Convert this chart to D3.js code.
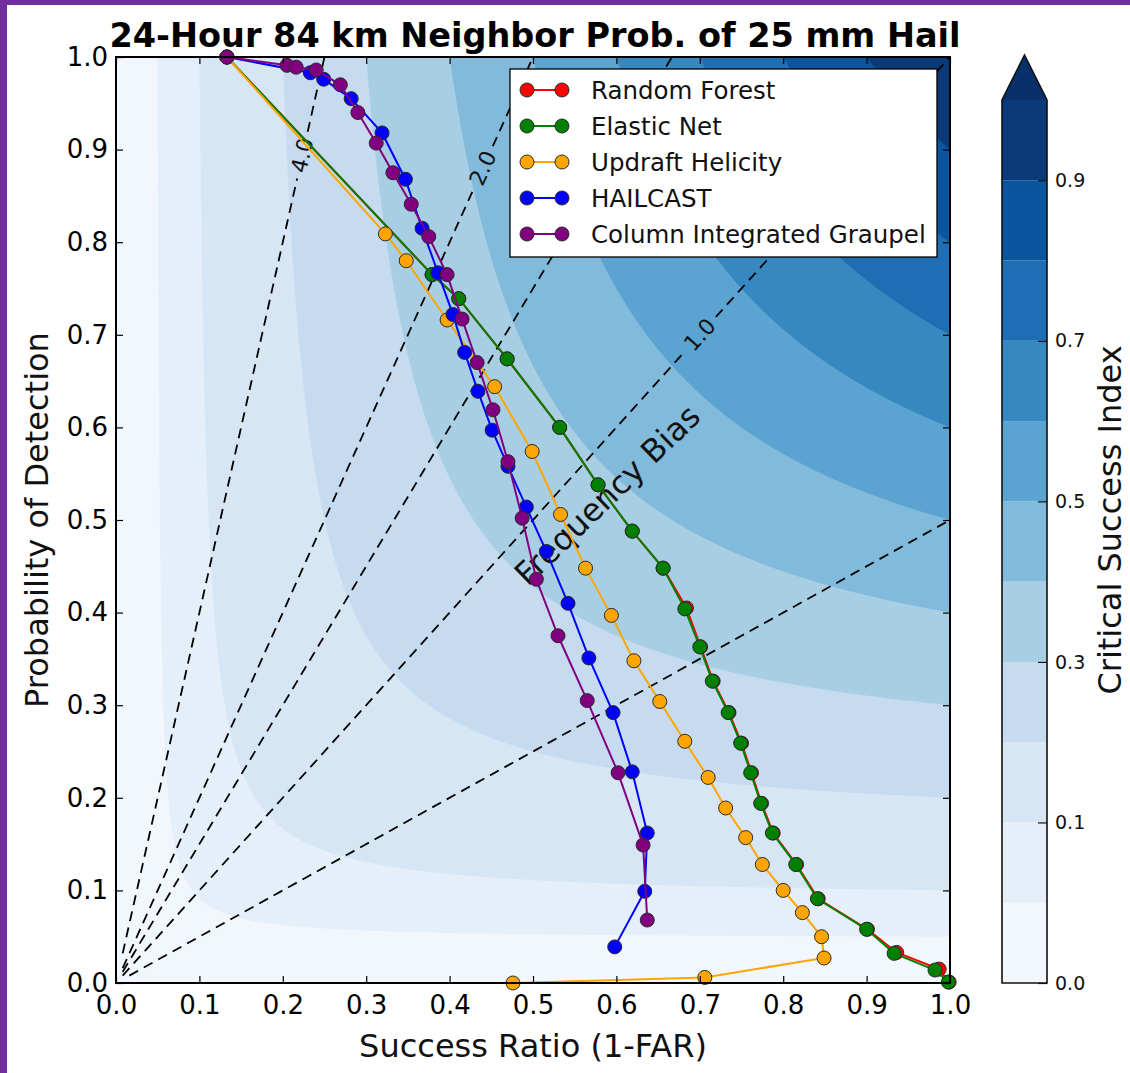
<!DOCTYPE html>
<html>
<head>
<meta charset="utf-8">
<script src="https://cdn.jsdelivr.net/npm/d3@7"></script>
<style>
  body { margin: 0; background: #fff; }
  svg { display: block; font-family: "DejaVu Sans", sans-serif; }
</style>
</head>
<body>
<svg id="chart" width="1130" height="1073"></svg>
<script>
// ---- data ----
const seriesNames = ["Random Forest", "Elastic Net", "Updraft Helicity", "HAILCAST", "Column Integrated Graupel"];
const seriesColors = ["red", "green", "orange", "blue", "purple"];

const rfSR  = [0.133,0.379,0.411,0.469,0.532,0.578,0.619,0.656,0.684,0.701,0.716,0.735,0.750,0.762,0.774,0.788,0.816,0.842,0.901,0.936,0.987,0.999];
const rfPOD = [1.000,0.765,0.739,0.674,0.600,0.538,0.488,0.448,0.405,0.363,0.326,0.292,0.259,0.227,0.194,0.162,0.128,0.091,0.058,0.033,0.015,0.001];

const enSR  = [0.133,0.379,0.411,0.469,0.532,0.578,0.619,0.656,0.682,0.700,0.715,0.734,0.749,0.761,0.773,0.787,0.815,0.841,0.900,0.933,0.982,0.998];
const enPOD = [1.000,0.765,0.739,0.674,0.600,0.538,0.488,0.448,0.404,0.363,0.326,0.292,0.259,0.227,0.194,0.162,0.128,0.091,0.058,0.032,0.014,0.001];

const uhSR  = [0.133,0.323,0.348,0.397,0.454,0.499,0.533,0.563,0.594,0.621,0.652,0.682,0.710,0.731,0.755,0.775,0.800,0.823,0.846,0.849,0.706,0.476];
const uhPOD = [1.000,0.809,0.780,0.716,0.644,0.574,0.506,0.448,0.397,0.348,0.304,0.261,0.222,0.189,0.157,0.128,0.100,0.076,0.050,0.027,0.006,0.000];

const hcSR  = [0.133,0.233,0.249,0.282,0.319,0.347,0.367,0.386,0.404,0.418,0.434,0.451,0.470,0.492,0.516,0.542,0.567,0.596,0.619,0.637,0.634,0.598];
const hcPOD = [1.000,0.983,0.976,0.955,0.918,0.868,0.815,0.767,0.722,0.681,0.639,0.597,0.558,0.514,0.466,0.410,0.351,0.292,0.228,0.162,0.099,0.039];

const cgSR  = [0.133,0.205,0.216,0.240,0.269,0.290,0.312,0.332,0.354,0.375,0.397,0.415,0.433,0.452,0.470,0.487,0.504,0.530,0.565,0.602,0.632,0.637];
const cgPOD = [1.000,0.991,0.989,0.986,0.970,0.940,0.907,0.875,0.841,0.806,0.765,0.717,0.670,0.619,0.563,0.502,0.436,0.375,0.305,0.227,0.149,0.068];

const csiLevels = [0, 0.05, 0.1, 0.2, 0.3, 0.4, 0.5, 0.6, 0.7, 0.8, 0.9, 1.0];
const csiColors = ["#f1f7fd","#e5eff9","#d7e6f4","#c6dbef","#a8cee4","#82badb","#5ba3d0","#3787c0","#1f6eb3","#0b559f","#0a3b78"];
const csiArrowColor = "#08306b";
const cbarTicks = [0.0, 0.1, 0.3, 0.5, 0.7, 0.9];

const biasValues = [0.5, 1.0, 1.5, 2.0, 4.0];
const biasLabelPOD = [null, 0.70, null, 0.88, 0.894];

const axisTicks = d3.range(0, 1.01, 0.1);

// ---- layout ----
const svg = d3.select("#chart");
const pL = 116, pR = 950, pT = 57, pB = 983;
const x = d3.scaleLinear().domain([0, 1]).range([pL, pR]);
const y = d3.scaleLinear().domain([0, 1]).range([pB, pT]);

// purple frame of the screenshot
svg.append("rect").attr("x", 0).attr("y", 0).attr("width", 7).attr("height", 1073).attr("fill", "#7030a0");
svg.append("rect").attr("x", 0).attr("y", 0).attr("width", 1130).attr("height", 5).attr("fill", "#7030a0");

svg.append("defs").append("clipPath").attr("id", "plotclip")
  .append("rect").attr("x", pL).attr("y", pT).attr("width", pR - pL).attr("height", pB - pT);

const plot = svg.append("g").attr("clip-path", "url(#plotclip)");

// ---- CSI filled contours ----
const n = 400;
const vals = new Float64Array(n * n);
for (let j = 0; j < n; j++) {
  for (let i = 0; i < n; i++) {
    const sr = (i + 0.5) / n, pod = (j + 0.5) / n;
    vals[j * n + i] = 1 / (1 / sr + 1 / pod - 1);
  }
}
const contours = d3.contours().size([n, n]).thresholds(csiLevels.slice(1, -1))(vals);
const proj = d3.geoTransform({
  point(px, py) { this.stream.point(x(px / n), y(py / n)); }
});
const cpath = d3.geoPath(proj);

plot.append("rect").attr("x", pL).attr("y", pT).attr("width", pR - pL).attr("height", pB - pT)
  .attr("fill", csiColors[0]);
plot.append("g").selectAll("path")
  .data(contours)
  .join("path")
  .attr("d", cpath)
  .attr("fill", (d, i) => csiColors[i + 1]);

// ---- frequency bias lines ----
const biasG = plot.append("g");
biasValues.forEach((b, k) => {
  const s0 = b >= 1 ? 0.008 : 0.016;
  const s1 = b >= 1 ? 1 / b : 1;
  const A = [x(s0), y(s0 * b)], B = [x(s1), y(s1 * b)];
  const len = Math.hypot(B[0] - A[0], B[1] - A[1]);
  const u = [(B[0] - A[0]) / len, (B[1] - A[1]) / len];
  const ang = Math.atan2(u[1], u[0]) * 180 / Math.PI;
  const segs = [];
  if (biasLabelPOD[k] != null) {
    const lp = biasLabelPOD[k];
    const C = [x(lp / b), y(lp)];
    const g = 24;
    segs.push([A, [C[0] - u[0] * g, C[1] - u[1] * g]]);
    segs.push([[C[0] + u[0] * g, C[1] + u[1] * g], B]);
    biasG.append("text")
      .attr("transform", `translate(${C[0]},${C[1]}) rotate(${ang})`)
      .attr("text-anchor", "middle")
      .attr("dominant-baseline", "central")
      .attr("font-size", 22)
      .attr("fill", "#111")
      .text(d3.format(".1f")(b));
  } else {
    segs.push([A, B]);
  }
  segs.forEach(s => {
    biasG.append("line")
      .attr("x1", s[0][0]).attr("y1", s[0][1]).attr("x2", s[1][0]).attr("y2", s[1][1])
      .attr("stroke", "#000").attr("stroke-width", 1.8).attr("stroke-dasharray", "10,6.5");
  });
});

plot.append("text")
  .attr("transform", `translate(615,503) rotate(-44)`)
  .attr("text-anchor", "middle")
  .attr("font-size", 32)
  .attr("fill", "#111")
  .text("Frequency Bias");

// ---- series ----
const allSeries = [
  [rfSR, rfPOD], [enSR, enPOD], [uhSR, uhPOD], [hcSR, hcPOD], [cgSR, cgPOD]
];
const line = d3.line().x(d => x(d[0])).y(d => y(d[1]));
const seriesG = svg.append("g");
allSeries.forEach((s, k) => {
  const pts = s[0].map((v, i) => [v, s[1][i]]);
  const g = seriesG.append("g");
  g.append("path").attr("d", line(pts)).attr("fill", "none")
    .attr("stroke", seriesColors[k]).attr("stroke-width", 2);
  g.selectAll("circle").data(pts).join("circle")
    .attr("cx", d => x(d[0])).attr("cy", d => y(d[1])).attr("r", 7)
    .attr("fill", seriesColors[k]).attr("stroke", "#2a2a2a").attr("stroke-width", 1);
});

// ---- axes ----
const fmt = d3.format(".1f");
const gx = svg.append("g").attr("transform", `translate(0,${pB})`)
  .call(d3.axisBottom(x).tickValues(axisTicks).tickFormat(fmt).tickSize(-7).tickPadding(13));
const gy = svg.append("g").attr("transform", `translate(${pL},0)`)
  .call(d3.axisLeft(y).tickValues(axisTicks).tickFormat(fmt).tickSize(-7).tickPadding(8));
const gt = svg.append("g").attr("transform", `translate(0,${pT})`)
  .call(d3.axisTop(x).tickValues(axisTicks).tickFormat("").tickSize(-7));
const gr = svg.append("g").attr("transform", `translate(${pR},0)`)
  .call(d3.axisRight(y).tickValues(axisTicks).tickFormat("").tickSize(-7));
[gx, gy, gt, gr].forEach(g => {
  g.select(".domain").remove();
  g.selectAll("line").attr("stroke", "#000").attr("stroke-width", 1.2);
  g.selectAll("text").attr("font-size", 26).attr("font-family", "DejaVu Sans").attr("fill", "#000");
});

svg.append("rect").attr("x", pL).attr("y", pT).attr("width", pR - pL).attr("height", pB - pT)
  .attr("fill", "none").attr("stroke", "#000").attr("stroke-width", 2);

// ---- legend ----
const leg = svg.append("g");
leg.append("rect").attr("x", 510).attr("y", 69).attr("width", 427).attr("height", 188)
  .attr("fill", "#fff").attr("stroke", "#000").attr("stroke-width", 1.3);
seriesNames.forEach((name, k) => {
  const cy = 90 + k * 36;
  leg.append("line").attr("x1", 527).attr("x2", 562).attr("y1", cy).attr("y2", cy)
    .attr("stroke", seriesColors[k]).attr("stroke-width", 2);
  [527, 562].forEach(cx => leg.append("circle").attr("cx", cx).attr("cy", cy).attr("r", 7)
    .attr("fill", seriesColors[k]).attr("stroke", "#2a2a2a").attr("stroke-width", 1));
  leg.append("text").attr("x", 591).attr("y", cy).attr("dominant-baseline", "central")
    .attr("font-size", 24.5).attr("fill", "#111").text(name);
});

// ---- titles ----
svg.append("text").attr("x", 535).attr("y", 47).attr("text-anchor", "middle")
  .attr("font-size", 33.5).attr("font-weight", "bold").text("24-Hour 84 km Neighbor Prob. of 25 mm Hail");
svg.append("text").attr("x", 533).attr("y", 1057).attr("text-anchor", "middle")
  .attr("font-size", 32).attr("fill", "#111").text("Success Ratio (1-FAR)");
svg.append("text").attr("transform", "translate(48,520) rotate(-90)").attr("text-anchor", "middle")
  .attr("font-size", 32).attr("fill", "#111").text("Probability of Detection");

// ---- colorbar ----
const cbL = 1002, cbR = 1047, cbB = 983, cbT = 100;
const cbY = d3.scaleLinear().domain(csiLevels)
  .range(csiLevels.map((d, i) => cbB - i * (cbB - cbT) / (csiLevels.length - 1)));
const cb = svg.append("g");
cb.selectAll("rect.band").data(csiColors).join("rect").attr("class", "band")
  .attr("x", cbL).attr("width", cbR - cbL)
  .attr("y", (d, i) => cbY(csiLevels[i + 1]))
  .attr("height", (d, i) => cbY(csiLevels[i]) - cbY(csiLevels[i + 1]))
  .attr("fill", d => d);
cb.append("path").attr("d", `M${cbL},${cbT}L${(cbL + cbR) / 2},55L${cbR},${cbT}Z`).attr("fill", csiArrowColor);
cb.append("path")
  .attr("d", `M${cbL},${cbB}L${cbL},${cbT}L${(cbL + cbR) / 2},55L${cbR},${cbT}L${cbR},${cbB}Z`)
  .attr("fill", "none").attr("stroke", "#111").attr("stroke-width", 1.6);
const cba = cb.append("g").attr("transform", `translate(${cbR},0)`)
  .call(d3.axisRight(cbY).tickValues(cbarTicks).tickFormat(fmt).tickSize(-9).tickPadding(8));
cba.select(".domain").remove();
cba.selectAll("line").attr("stroke", "#111").attr("stroke-width", 1.2);
cba.selectAll("text").attr("font-size", 19).attr("font-family", "DejaVu Sans").attr("fill", "#111");
svg.append("text").attr("transform", "translate(1121,520) rotate(-90)").attr("text-anchor", "middle")
  .attr("font-size", 32).attr("fill", "#111").text("Critical Success Index");
</script>
</body>
</html>
